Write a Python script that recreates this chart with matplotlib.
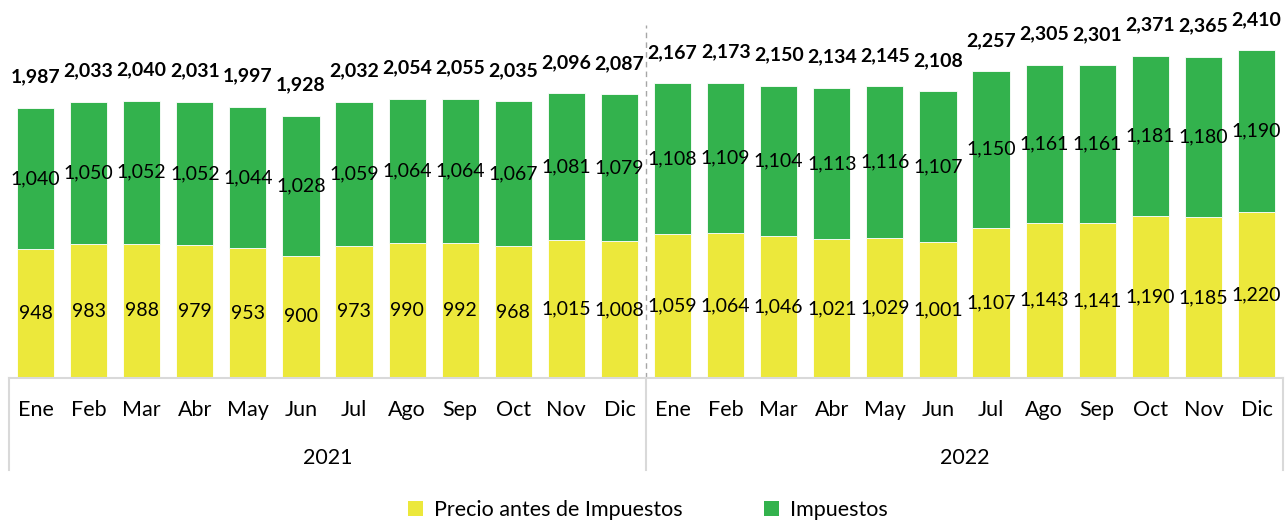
import numpy as np
import matplotlib
matplotlib.use("Agg")
import matplotlib.pyplot as plt
from matplotlib.patches import Patch
import matplotlib.transforms as mtransforms

plt.rcParams['font.family'] = ['Lato', 'DejaVu Sans']

meses = ["Ene", "Feb", "Mar", "Abr", "May", "Jun", "Jul", "Ago", "Sep", "Oct", "Nov", "Dic"]
anios = ["2021", "2022"]

precio = [948, 983, 988, 979, 953, 900, 973, 990, 992, 968, 1015, 1008,
          1059, 1064, 1046, 1021, 1029, 1001, 1107, 1143, 1141, 1190, 1185, 1220]
impuestos = [1040, 1050, 1052, 1052, 1044, 1028, 1059, 1064, 1064, 1067, 1081, 1079,
             1108, 1109, 1104, 1113, 1116, 1107, 1150, 1161, 1161, 1181, 1180, 1190]
totales = [1987, 2033, 2040, 2031, 1997, 1928, 2032, 2054, 2055, 2035, 2096, 2087,
           2167, 2173, 2150, 2134, 2145, 2108, 2257, 2305, 2301, 2371, 2365, 2410]

amarillo = "#ECE83B"
verde = "#33B24D"
gris = "#D9D9D9"

W, H = 1286, 522
fig = plt.figure(figsize=(W/100, H/100), dpi=100)
ax = fig.add_axes([9/W, (H-378)/H, 1274/W, 367/H])

x = np.arange(len(precio))
precio = np.array(precio)
impuestos = np.array(impuestos)

ax.bar(x, precio, width=0.7, color=amarillo, edgecolor="white", linewidth=0.6)
ax.bar(x, impuestos, width=0.7, bottom=precio, color=verde, edgecolor="white", linewidth=0.6)

fs = 14
fs_eje = 15.5
for i in range(len(x)):
    ax.text(x[i], precio[i]/2, f"{precio[i]:,}", ha="center", va="center", fontsize=fs)
    ax.text(x[i], precio[i] + impuestos[i]/2, f"{impuestos[i]:,}", ha="center", va="center", fontsize=fs)
    ax.annotate(f"{totales[i]:,}", (x[i], precio[i] + impuestos[i]), xytext=(0, 16),
                textcoords="offset points", ha="center", va="bottom", fontsize=fs, fontweight="bold")

ax.set_xlim(-0.5, len(x) - 0.5)
ax.set_ylim(0, 2700)
ax.axis("off")

# linea discontinua entre años
ax.plot([11.5, 11.5], [0, 2595], ls=(0, (4, 3)), color="#A6A6A6", lw=1)

# eje de categorias con dos niveles
tr = mtransforms.blended_transform_factory(ax.transData, ax.transAxes)
y_fondo = -(470 - 378) / 367
ax.plot([-0.5, 23.5], [0, 0], transform=tr, color=gris, lw=1.5, clip_on=False)
for xv in [-0.5, 11.5, 23.5]:
    ax.plot([xv, xv], [0, y_fondo], transform=tr, color=gris, lw=1.5, clip_on=False)

for i in range(len(x)):
    ax.text(x[i], -(410 - 378) / 367, meses[i % 12], transform=tr, ha="center", va="center",
            fontsize=fs_eje, clip_on=False)
for k, a in enumerate(anios):
    ax.text(5.5 + 12*k, -(458 - 378) / 367, a, transform=tr, ha="center", va="center",
            fontsize=fs_eje, clip_on=False)

handles = [Patch(facecolor=amarillo, label="Precio antes de Impuestos"),
           Patch(facecolor=verde, label="Impuestos")]
fig.legend(handles=handles, loc="center", bbox_to_anchor=(648/W, 1 - 510/H), ncol=2,
           frameon=False, fontsize=fs_eje, handlelength=0.7, handleheight=0.7,
           handletextpad=0.5, columnspacing=3.8)

fig.savefig("out.png", dpi=100)
